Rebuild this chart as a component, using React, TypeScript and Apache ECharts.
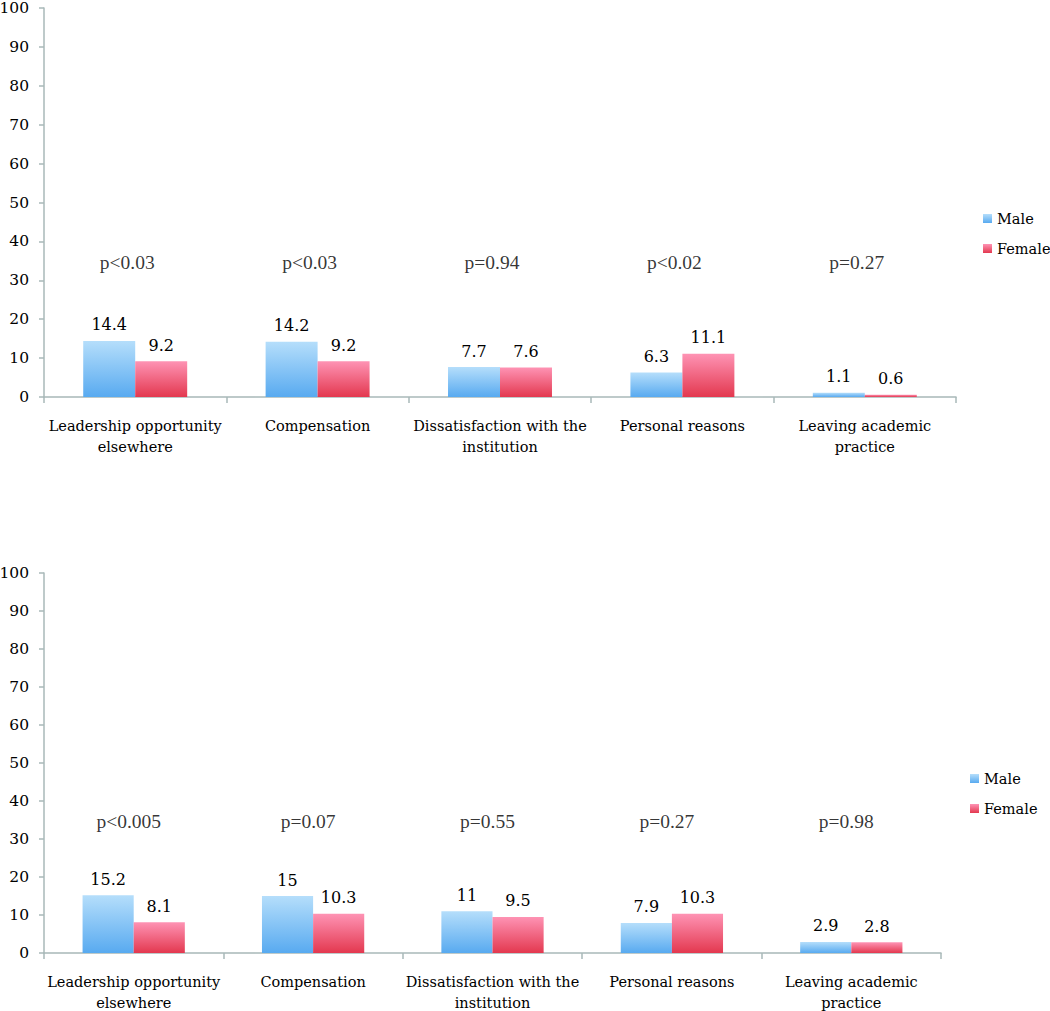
import React, { useEffect, useRef } from "react";
import * as echarts from "echarts";

const categories = [
  "Leadership opportunity\nelsewhere",
  "Compensation",
  "Dissatisfaction with the\ninstitution",
  "Personal reasons",
  "Leaving academic\npractice",
];
const maleTop = [14.4, 14.2, 7.7, 6.3, 1.1];
const femaleTop = [9.2, 9.2, 7.6, 11.1, 0.6];
const pTop = ["p<0.03", "p<0.03", "p=0.94", "p<0.02", "p=0.27"];
const maleBottom = [15.2, 15, 11, 7.9, 2.9];
const femaleBottom = [8.1, 10.3, 9.5, 10.3, 2.8];
const pBottom = ["p<0.005", "p=0.07", "p=0.55", "p=0.27", "p=0.98"];
const pLevel = 34.5;

const FONT = "DejaVu Serif";
const PFONT = "Liberation Serif";
const AXIS_COLOR = "#a8b8b8";
const TEXT = "#000";

const maleGrad = new echarts.graphic.LinearGradient(0, 0, 0, 1, [
  { offset: 0, color: "#b5defb" },
  { offset: 1, color: "#58aaf0" },
]);
const femaleGrad = new echarts.graphic.LinearGradient(0, 0, 0, 1, [
  { offset: 0, color: "#fe93b4" },
  { offset: 1, color: "#e3384f" },
]);

function buildAxes(idx: number) {
  const x = {
    type: "category",
    gridIndex: idx,
    data: categories,
    boundaryGap: true,
    axisLine: { lineStyle: { color: AXIS_COLOR, width: 1.5 } },
    axisTick: { show: true, length: 6, lineStyle: { color: AXIS_COLOR, width: 1.5 } },
    axisLabel: {
      interval: 0,
      margin: 18,
      fontFamily: FONT,
      fontSize: 14.5,
      color: TEXT,
      lineHeight: 21,
    },
  };
  const y = {
    type: "value",
    gridIndex: idx,
    min: 0,
    max: 100,
    interval: 10,
    splitLine: { show: false },
    axisLine: { show: true, lineStyle: { color: AXIS_COLOR, width: 1.5 } },
    axisTick: { show: true, length: 5, lineStyle: { color: AXIS_COLOR, width: 1.5 } },
    axisLabel: { fontFamily: FONT, fontSize: 15.5, color: TEXT, margin: 15, lineHeight: 15 },
  };
  return { x, y };
}

function barSeries(name: string, data: number[], idx: number, color: any) {
  return {
    name,
    type: "bar",
    xAxisIndex: idx,
    yAxisIndex: idx,
    data,
    barGap: "0%",
    barCategoryGap: "43%",
    itemStyle: { color },
    label: {
      show: true,
      position: "top",
      distance: 8,
      fontFamily: FONT,
      fontSize: 16,
      color: TEXT,
    },
  };
}

function pSeries(labels: string[], idx: number, offsetX: number) {
  return {
    name: "p" + idx,
    type: "scatter",
    xAxisIndex: idx,
    yAxisIndex: idx,
    symbolSize: 1,
    itemStyle: { color: "rgba(0,0,0,0)" },
    data: labels.map(() => pLevel),
    label: {
      show: true,
      position: "inside",
      offset: [offsetX, 0],
      formatter: (p: any) => labels[p.dataIndex],
      fontFamily: PFONT,
      fontSize: 19.5,
      color: TEXT,
    },
  };
}

function legend(left: number, top: number) {
  return {
    data: ["Male", "Female"],
    orient: "vertical",
    left,
    top,
    itemWidth: 9,
    itemHeight: 9,
    itemGap: 15,
    icon: "rect",
    textStyle: { fontFamily: FONT, fontSize: 14.5, color: TEXT },
  };
}

export default function App() {
  const ref = useRef<HTMLDivElement>(null);
  useEffect(() => {
    if (!ref.current) return;
    const chart = echarts.init(ref.current, null, { renderer: "svg" });
    const a0 = buildAxes(0);
    const a1 = buildAxes(1);
    chart.setOption({
      animation: false,
      backgroundColor: "#ffffff",
      grid: [
        { left: 44, top: 8, width: 912, height: 389, containLabel: false, outerBoundsMode: "none" },
        { left: 44, top: 573, width: 897, height: 380, containLabel: false, outerBoundsMode: "none" },
      ],
      xAxis: [a0.x, a1.x],
      yAxis: [a0.y, a1.y],
      legend: [legend(978, 206), legend(965, 766)],
      series: [
        barSeries("Male", maleTop, 0, maleGrad),
        barSeries("Female", femaleTop, 0, femaleGrad),
        pSeries(pTop, 0, -8),
        barSeries("Male", maleBottom, 1, maleGrad),
        barSeries("Female", femaleBottom, 1, femaleGrad),
        pSeries(pBottom, 1, -5),
      ],
    });
    return () => chart.dispose();
  }, []);
  return (
    <div
      ref={ref}
      style={{ position: "fixed", left: 0, top: 0, width: 1050, height: 1011, background: "#fff" }}
    />
  );
}
